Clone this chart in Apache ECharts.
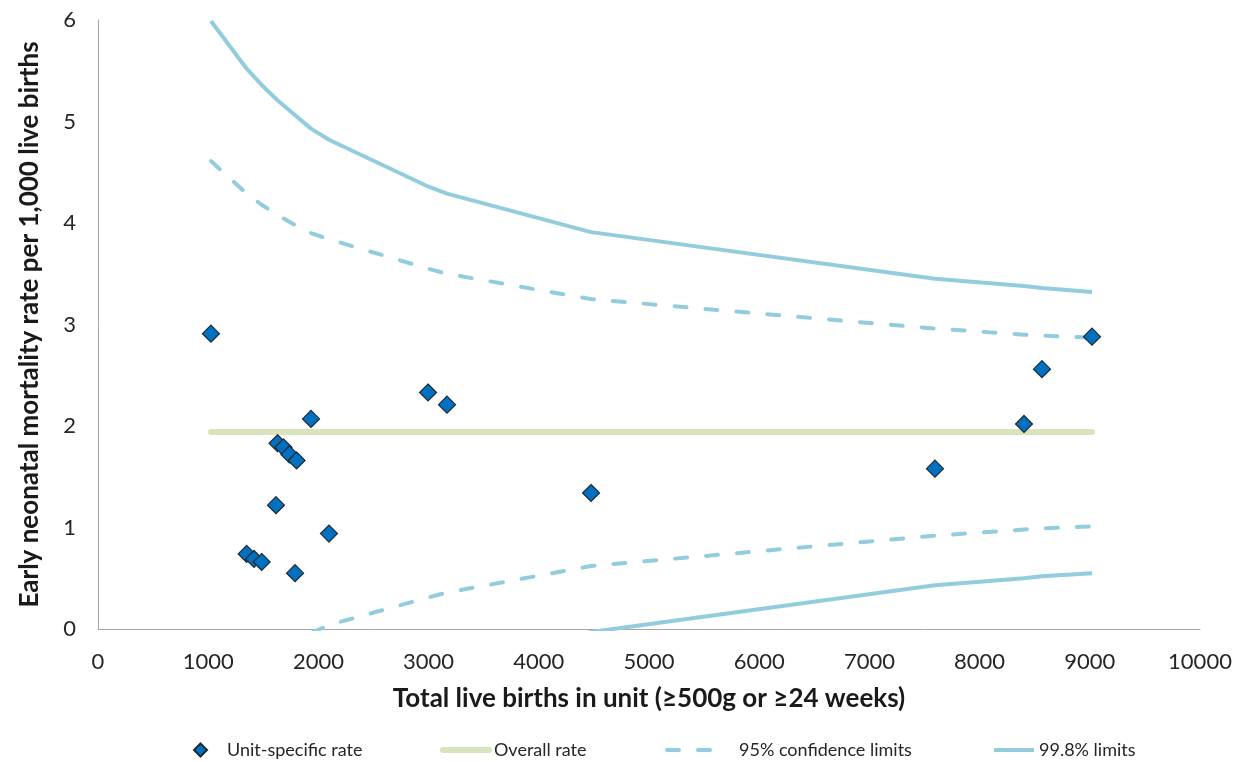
<!DOCTYPE html>
<html>
<head>
<meta charset="utf-8">
<script src="https://cdn.jsdelivr.net/npm/echarts@6/dist/echarts.min.js"></script>
<style>
  html, body { margin: 0; padding: 0; background: #fff; }
  #main { width: 1241px; height: 762px; }
</style>
</head>
<body>
<div id="main"></div>
<script>
// unit-specific points: total live births and rate per 1,000
var unitBirths = [1025, 1349, 1416, 1485, 1615, 1629, 1683, 1737, 1788, 1802, 1933, 2096, 2995, 3167, 4474, 7595, 8403, 8566, 9020];
var unitRate = [2.91, 0.74, 0.69, 0.66, 1.22, 1.83, 1.79, 1.72, 0.55, 1.66, 2.07, 0.94, 2.33, 2.21, 1.34, 1.58, 2.02, 2.56, 2.88];

// overall rate
var overallRate = 1.94;

// funnel limits, read at unit sizes
var limitBirths = [1025, 1349, 1485, 1629, 1802, 1933, 2096, 2995, 3167, 4474, 7595, 8403, 8566, 9020];
var upper998 = [5.99, 5.52, 5.36, 5.21, 5.05, 4.93, 4.82, 4.36, 4.29, 3.91, 3.45, 3.38, 3.36, 3.32];
var upper95 = [4.61, 4.29, 4.18, 4.08, 3.97, 3.90, 3.84, 3.55, 3.50, 3.25, 2.96, 2.90, 2.89, 2.87];
var lower95 = [-0.73, -0.41, -0.30, -0.20, -0.11, -0.04, 0.04, 0.31, 0.36, 0.62, 0.92, 0.98, 0.99, 1.01];
var lower998 = [-2.11, -1.64, -1.48, -1.33, -1.17, -1.05, -0.94, -0.48, -0.41, -0.03, 0.43, 0.50, 0.52, 0.55];

var yTicks = [0, 1, 2, 3, 4, 5, 6];

function pairs(xs, ys) {
  return xs.map(function (x, i) { return [x, ys[i]]; });
}

var font = 'Lato, "Open Sans", sans-serif';
var limitColor = '#93CDDD';
var overallColor = '#D7E4BD';
var dash = [12, 19];

var myChart = echarts.init(document.getElementById('main'), null, { renderer: 'canvas' });

// one legend per entry so each can sit where the original puts it
function legendAt(name, left, opts) {
  var l = {
    data: [name],
    left: left,
    top: 736,
    itemWidth: 46,
    itemHeight: 14,
    // hide the little circle ECharts puts on line icons
    itemStyle: { color: 'rgba(0,0,0,0)', borderWidth: 0 },
    textStyle: { fontFamily: font, fontSize: 18, color: '#262626' }
  };
  for (var k in opts) l[k] = opts[k];
  return l;
}

var option = {
  animation: false,
  backgroundColor: '#fff',
  grid: { left: 98, right: 41, top: 20, bottom: 133, outerBoundsMode: 'none' },
  legend: [
    legendAt('Unit-specific rate', 188, {
      itemWidth: 13, itemHeight: 13,
      itemStyle: {},
      textStyle: { fontFamily: font, fontSize: 18, color: '#262626', padding: [0, 0, 0, 15] }
    }),
    legendAt('Overall rate', 435, {
      lineStyle: { color: overallColor, width: 6, cap: 'round' }
    }),
    legendAt('95% confidence limits', 660, {
      itemWidth: 48,
      lineStyle: { color: limitColor, width: 4, type: dash, cap: 'round' },
      textStyle: { fontFamily: font, fontSize: 18, color: '#262626', padding: [0, 0, 0, 19] }
    }),
    legendAt('99.8% limits', 987, {
      itemWidth: 40,
      lineStyle: { color: limitColor, width: 4 }
    })
  ],
  xAxis: {
    type: 'value',
    min: 0,
    max: 10000,
    interval: 1000,
    name: 'Total live births in unit (\u2265500g or \u226524 weeks)',
    nameLocation: 'middle',
    nameGap: 57,
    nameTextStyle: { fontFamily: font, fontSize: 26, fontWeight: 'bold', color: '#1a1a1a' },
    axisLine: { lineStyle: { color: '#A6A6A6', width: 1 } },
    axisTick: { show: false },
    splitLine: { show: false },
    axisLabel: {
      margin: 22, fontFamily: font, fontSize: 22, color: '#262626',
      formatter: function (v) { return String(v); }
    }
  },
  yAxis: {
    type: 'value',
    min: yTicks[0],
    max: yTicks[yTicks.length - 1],
    interval: 1,
    name: 'Early neonatal mortality rate per 1,000 live births',
    nameLocation: 'middle',
    nameGap: 55,
    nameTextStyle: { fontFamily: font, fontSize: 26, fontWeight: 'bold', color: '#1a1a1a' },
    axisLine: { show: true, lineStyle: { color: '#A6A6A6', width: 1 } },
    axisTick: { show: false },
    splitLine: { show: false },
    axisLabel: { margin: 22, fontFamily: font, fontSize: 22, color: '#262626' }
  },
  series: [
    {
      name: '99.8% limits',
      type: 'line',
      symbol: 'none',
      data: pairs(limitBirths, upper998),
      lineStyle: { color: limitColor, width: 4 },
      itemStyle: { color: limitColor },
      z: 2
    },
    {
      name: '99.8% limits',
      type: 'line',
      symbol: 'none',
      data: pairs(limitBirths, lower998),
      lineStyle: { color: limitColor, width: 4 },
      itemStyle: { color: limitColor },
      z: 2
    },
    {
      name: '95% confidence limits',
      type: 'line',
      symbol: 'none',
      data: pairs(limitBirths, upper95),
      lineStyle: { color: limitColor, width: 4, type: dash, cap: 'round' },
      itemStyle: { color: limitColor },
      z: 2
    },
    {
      name: '95% confidence limits',
      type: 'line',
      symbol: 'none',
      data: pairs(limitBirths, lower95),
      lineStyle: { color: limitColor, width: 4, type: dash, cap: 'round' },
      itemStyle: { color: limitColor },
      z: 2
    },
    {
      name: 'Overall rate',
      type: 'line',
      symbol: 'none',
      data: [[unitBirths[0], overallRate], [unitBirths[unitBirths.length - 1], overallRate]],
      lineStyle: { color: overallColor, width: 6, cap: 'round' },
      itemStyle: { color: overallColor },
      z: 3
    },
    {
      name: 'Unit-specific rate',
      type: 'scatter',
      symbol: 'diamond',
      symbolSize: 17,
      data: pairs(unitBirths, unitRate),
      itemStyle: { color: '#0070C0', borderColor: '#1f2a33', borderWidth: 1.2, opacity: 1 },
      z: 5
    }
  ]
};

myChart.setOption(option);
</script>
</body>
</html>
